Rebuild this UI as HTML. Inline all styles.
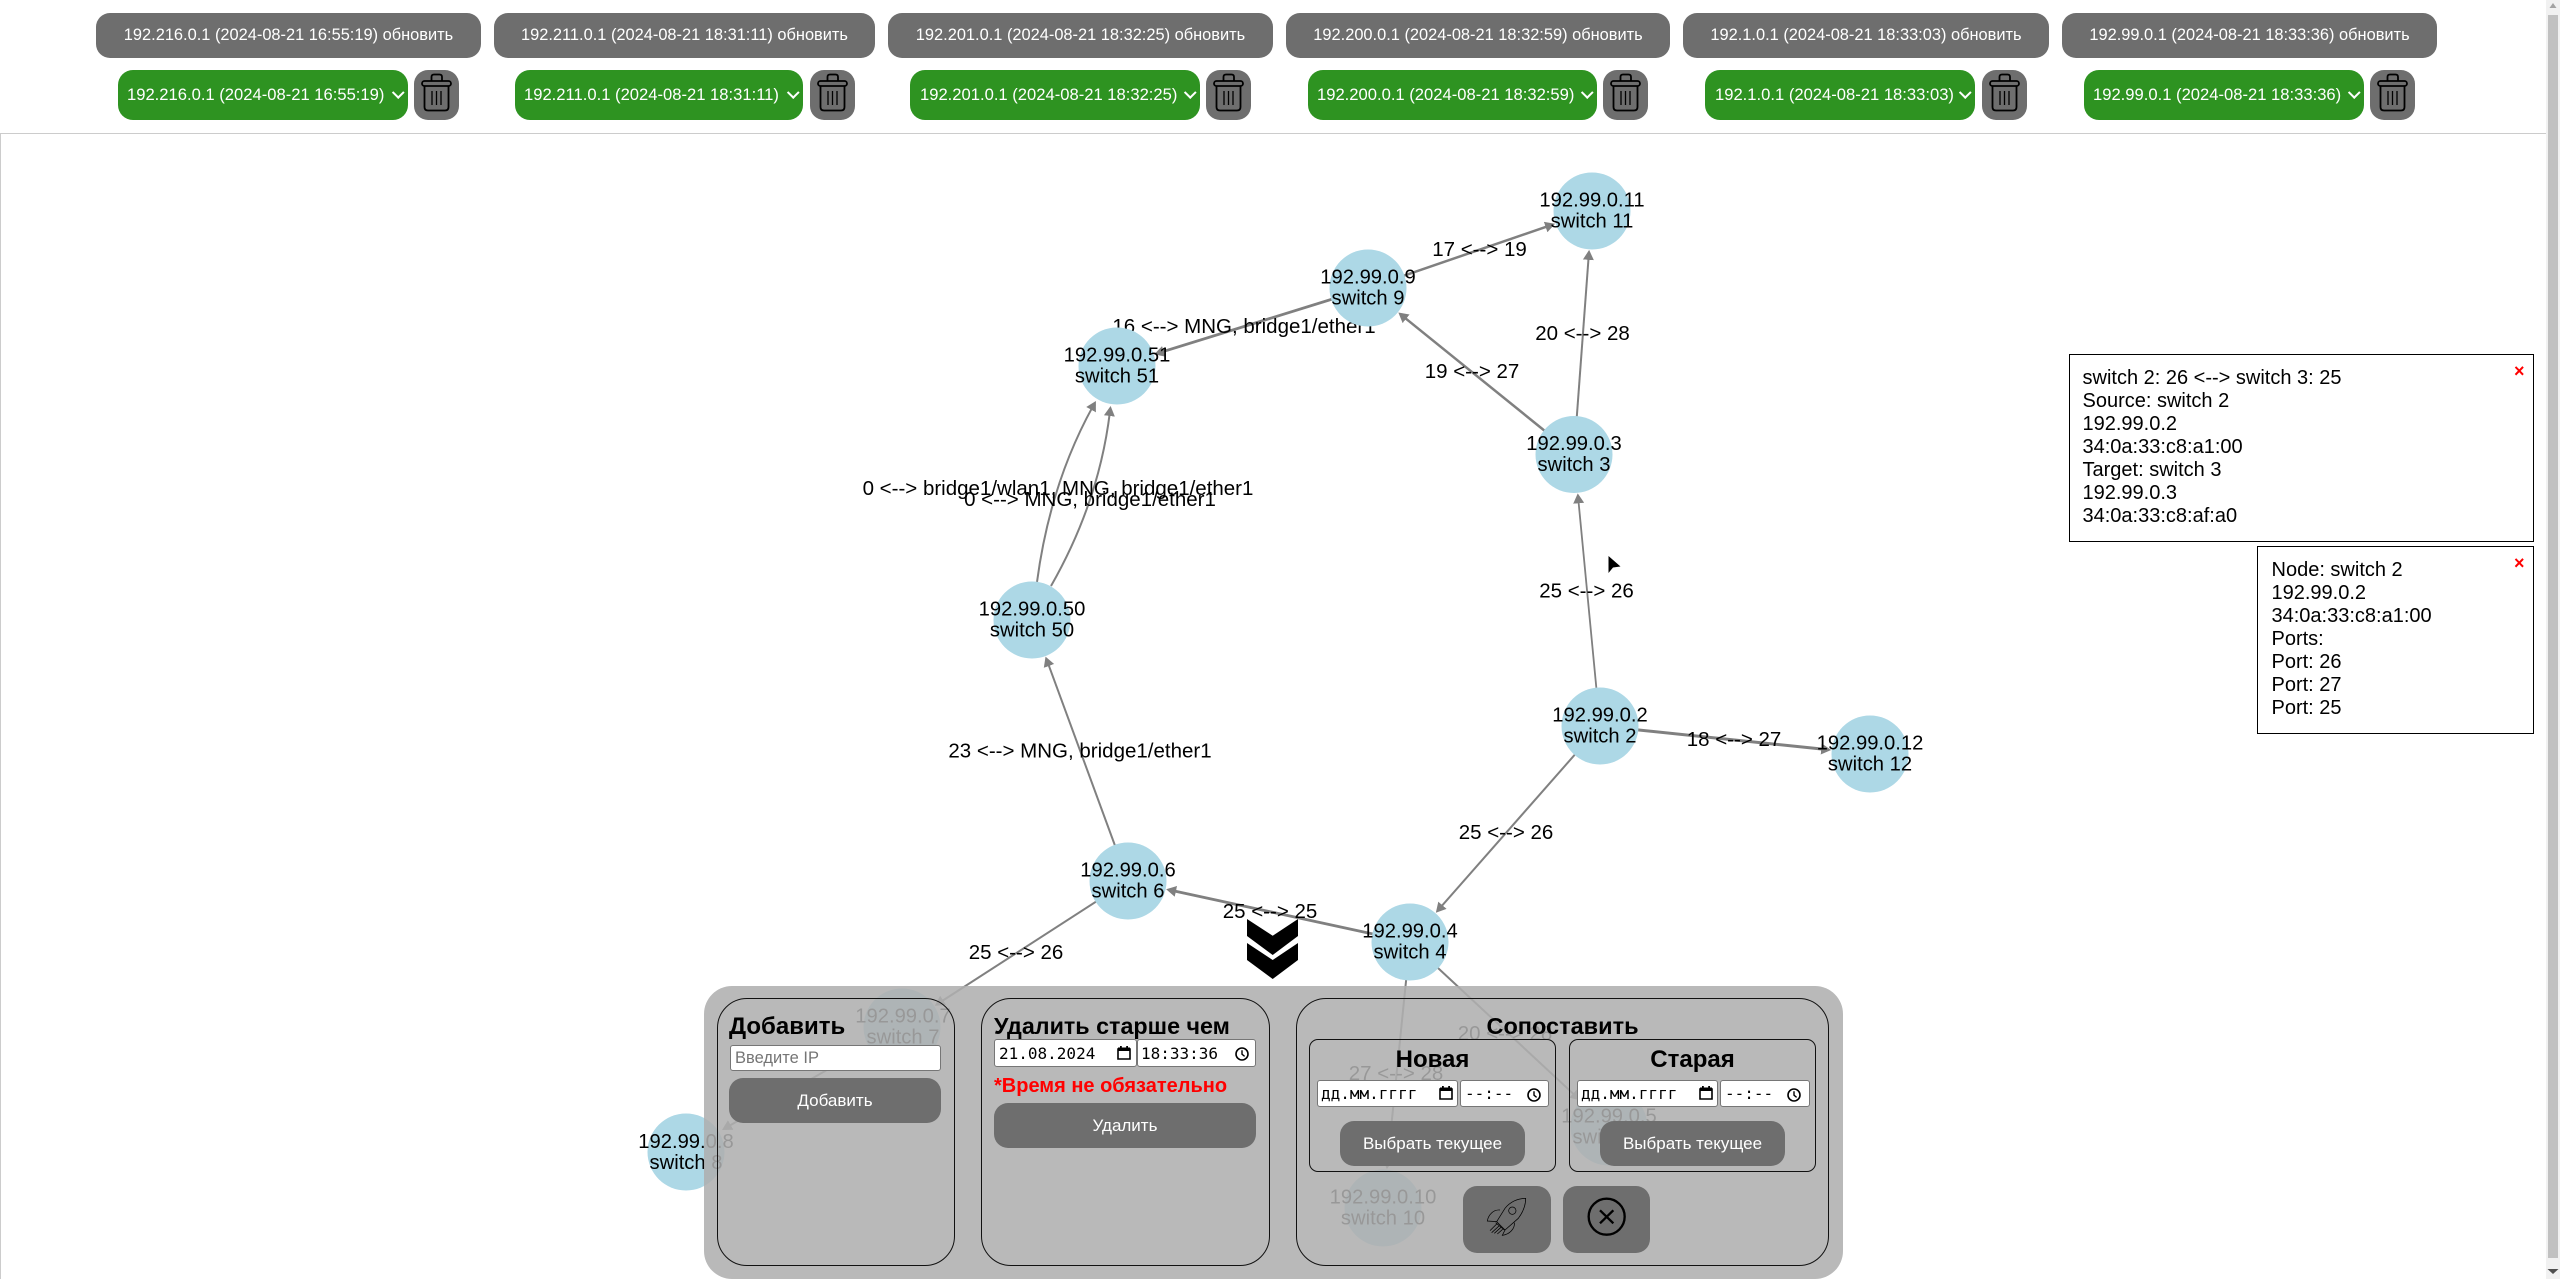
<!DOCTYPE html>
<html lang="ru"><head><meta charset="utf-8"><title>Network map</title>
<style>
html,body{margin:0;padding:0;width:2560px;height:1279px;overflow:hidden;background:#fff;font-family:"Liberation Sans",Arial,sans-serif}
.a{position:absolute;box-sizing:border-box}
.btn{position:absolute;box-sizing:border-box;background:#6e6e6e;color:#fff;font-size:17px;border-radius:14px;text-align:center;display:flex;align-items:center;justify-content:center;white-space:nowrap}
.top{font-size:16.4px}
.sel{position:absolute;top:70px;height:50px;background:#2e9321;color:#fff;font-size:16.6px;border-radius:15px;line-height:50px;white-space:nowrap;box-sizing:border-box}
.sel i{position:absolute;right:5.5px;top:18px;width:6.5px;height:6.5px;border-right:2px solid #fff;border-bottom:2px solid #fff;transform:rotate(45deg)}
.tr{position:absolute;top:70px;width:45px;height:50px;background:#6e6e6e;border-radius:14px}
.tr svg{display:block}
.card{position:absolute;box-sizing:border-box;border:1.5px solid #111;border-radius:30px}
.sub{position:absolute;box-sizing:border-box;border:1.5px solid #111;border-radius:9px}
.inp{position:absolute;box-sizing:border-box;background:#fff;border:1px solid #767676;border-radius:3px;font-family:"DejaVu Sans Mono","Liberation Mono",monospace;font-size:16px;color:#000;white-space:nowrap}
.t{position:absolute;font-weight:bold;color:#000;white-space:nowrap;font-size:24px;line-height:28px}
.pop{position:absolute;box-sizing:border-box;background:#fff;border:1.5px solid #000;font-size:20px;line-height:23px;color:#000;white-space:nowrap}
.pop b{position:absolute;color:#f00;font-size:18px;line-height:18px;font-weight:bold}
svg text{font-family:"Liberation Sans",Arial,sans-serif;font-size:20.2px;fill:#000}
svg .el text{font-size:20.5px}
</style></head><body>

<svg width="0" height="0" style="position:absolute">
<defs>
<symbol id="trash" viewBox="0 0 45 50"><g fill="none" stroke="#000" stroke-width="1.8"><path d="M17.5 11V7q0-2.5 2.5-2.5h5.5q2.5 0 2.5 2.5v4"/><rect x="8" y="11" width="29" height="5" rx="2.5"/><path d="M10.5 16v21q0 3.5 3.5 3.5h17q3.5 0 3.5-3.5V16"/><path stroke-width="1.3" d="M18 21v14M22.5 21v14M27 21v14"/></g></symbol>
<symbol id="cal" viewBox="0 0 14 14"><path d="M1 3h12v10H1z" fill="none" stroke="#000" stroke-width="1.6"/><path d="M1 1.5h12V5H1zM3 0h1.8v2H3zM9.2 0H11v2H9.2z" fill="#000"/></symbol>
<symbol id="clk" viewBox="0 0 14 14"><circle cx="7" cy="7" r="6" fill="none" stroke="#000" stroke-width="1.6"/><path d="M7 3.2V7.2l2.6 2.2" fill="none" stroke="#000" stroke-width="1.4"/></symbol>
<marker id="ah" markerUnits="userSpaceOnUse" markerWidth="14" markerHeight="14" refX="4" refY="6" orient="auto"><path d="M0 0.5L10 6L0 11.5z" fill="#808080"/></marker>
</defs></svg>

<!-- top bar -->
<div class="btn top" style="left:96px;top:13px;width:385px;height:45px">192.216.0.1 (2024-08-21 16:55:19) обновить</div>
<div class="btn top" style="left:494px;top:13px;width:381px;height:45px">192.211.0.1 (2024-08-21 18:31:11) обновить</div>
<div class="btn top" style="left:888px;top:13px;width:385px;height:45px">192.201.0.1 (2024-08-21 18:32:25) обновить</div>
<div class="btn top" style="left:1286px;top:13px;width:384px;height:45px">192.200.0.1 (2024-08-21 18:32:59) обновить</div>
<div class="btn top" style="left:1683px;top:13px;width:366px;height:45px">192.1.0.1 (2024-08-21 18:33:03) обновить</div>
<div class="btn top" style="left:2062px;top:13px;width:375px;height:45px">192.99.0.1 (2024-08-21 18:33:36) обновить</div>

<div class="sel" style="left:118px;width:290px;padding-left:9px">192.216.0.1 (2024-08-21 16:55:19)<i></i></div>
<div class="tr" style="left:414px"><svg width="45" height="50"><use href="#trash"/></svg></div>
<div class="sel" style="left:515px;width:288px;padding-left:9px">192.211.0.1 (2024-08-21 18:31:11)<i></i></div>
<div class="tr" style="left:810px"><svg width="45" height="50"><use href="#trash"/></svg></div>
<div class="sel" style="left:910px;width:290px;padding-left:10px">192.201.0.1 (2024-08-21 18:32:25)<i></i></div>
<div class="tr" style="left:1206px"><svg width="45" height="50"><use href="#trash"/></svg></div>
<div class="sel" style="left:1308px;width:289px;padding-left:9px">192.200.0.1 (2024-08-21 18:32:59)<i></i></div>
<div class="tr" style="left:1603px"><svg width="45" height="50"><use href="#trash"/></svg></div>
<div class="sel" style="left:1705px;width:270px;padding-left:10px">192.1.0.1 (2024-08-21 18:33:03)<i></i></div>
<div class="tr" style="left:1982px"><svg width="45" height="50"><use href="#trash"/></svg></div>
<div class="sel" style="left:2084px;width:280px;padding-left:9px">192.99.0.1 (2024-08-21 18:33:36)<i></i></div>
<div class="tr" style="left:2370px"><svg width="45" height="50"><use href="#trash"/></svg></div>

<!-- graph frame -->
<div class="a" style="left:0;top:133px;width:2546px;height:1146px;border-top:1.5px solid #ccc;border-left:1px solid #ccc"></div>

<!-- graph -->
<svg class="a" style="left:0;top:0" width="2546" height="1279" viewBox="0 0 2546 1279">
<g fill="none" stroke="#808080" stroke-width="2">
<line x1="1368" y1="288" x2="1549.4" y2="225.7" stroke-width="2.5" marker-end="url(#ah)"/>
<line x1="1574" y1="454.5" x2="1588.7" y2="255.9" marker-end="url(#ah)"/>
<line x1="1574" y1="454.5" x2="1403" y2="316.3" stroke-width="2.5" marker-end="url(#ah)"/>
<line x1="1368" y1="288" x2="1159.9" y2="352.6" stroke-width="2.8" marker-end="url(#ah)"/>
<path d="M1037 582Q1050 484 1093 406.2" marker-end="url(#ah)"/>
<path d="M1051 586Q1099 502 1109.9 412" marker-end="url(#ah)"/>
<line x1="1600" y1="726" x2="1578.3" y2="499.3" stroke-width="1.8" marker-end="url(#ah)"/>
<line x1="1600" y1="726" x2="1825.2" y2="749.4" stroke-width="3" marker-end="url(#ah)"/>
<line x1="1600" y1="726" x2="1439.8" y2="908.2" marker-end="url(#ah)"/>
<line x1="1410" y1="942" x2="1172" y2="890.5" stroke-width="2.8" marker-end="url(#ah)"/>
<line x1="1128" y1="881" x2="1047.6" y2="662.2" marker-end="url(#ah)"/>
<line x1="1128" y1="881" x2="939.8" y2="1002.5" marker-end="url(#ah)"/>
<line x1="902" y1="1027" x2="727.2" y2="1127" marker-end="url(#ah)"/>
<line x1="1410" y1="942" x2="1387.5" y2="1163.2" marker-end="url(#ah)"/>
<line x1="1410" y1="942" x2="1576" y2="1096.3" marker-end="url(#ah)"/>
</g>
<g class="el" text-anchor="middle">
<text x="1479.5" y="256">17 &lt;--&gt; 19</text>
<text x="1582.5" y="340">20 &lt;--&gt; 28</text>
<text x="1472" y="378">19 &lt;--&gt; 27</text>
<text x="1244" y="333">16 &lt;--&gt; MNG, bridge1/ether1</text>
<text x="1058" y="495">0 &lt;--&gt; bridge1/wlan1, MNG, bridge1/ether1</text>
<text x="1090" y="506">0 &lt;--&gt; MNG, bridge1/ether1</text>
<text x="1586.5" y="597.7">25 &lt;--&gt; 26</text>
<text x="1734" y="746">18 &lt;--&gt; 27</text>
<text x="1506" y="839">25 &lt;--&gt; 26</text>
<text x="1080" y="757.7">23 &lt;--&gt; MNG, bridge1/ether1</text>
<text x="1270" y="918">25 &lt;--&gt; 25</text>
<text x="1016" y="959">25 &lt;--&gt; 26</text>
<text x="1396" y="1080">27 &lt;--&gt; 28</text>
<text x="1505" y="1040">20 &lt;--&gt; 28</text>
</g>
<g fill="#add8e6">
<circle cx="1592" cy="211" r="38.5"/><circle cx="1368" cy="288" r="38.5"/><circle cx="1117" cy="366" r="38.5"/><circle cx="1574" cy="454.5" r="38.5"/><circle cx="1032" cy="620" r="38.5"/><circle cx="1600" cy="726" r="38.5"/><circle cx="1870" cy="754" r="38.5"/><circle cx="1128" cy="881" r="38.5"/><circle cx="1410" cy="942" r="38.5"/><circle cx="902" cy="1027" r="38.5"/><circle cx="686" cy="1152" r="38.5"/><circle cx="1609" cy="1127" r="38.5"/><circle cx="1383" cy="1208" r="38.5"/>
</g>
<g text-anchor="middle">
<text x="1592" y="206.5">192.99.0.11</text><text x="1592" y="227.5">switch 11</text>
<text x="1368" y="283.5">192.99.0.9</text><text x="1368" y="304.5">switch 9</text>
<text x="1117" y="361.5">192.99.0.51</text><text x="1117" y="382.5">switch 51</text>
<text x="1574" y="450">192.99.0.3</text><text x="1574" y="471">switch 3</text>
<text x="1032" y="615.5">192.99.0.50</text><text x="1032" y="636.5">switch 50</text>
<text x="1600" y="721.5">192.99.0.2</text><text x="1600" y="742.5">switch 2</text>
<text x="1870" y="749.5">192.99.0.12</text><text x="1870" y="770.5">switch 12</text>
<text x="1128" y="876.5">192.99.0.6</text><text x="1128" y="897.5">switch 6</text>
<text x="1410" y="937.5">192.99.0.4</text><text x="1410" y="958.5">switch 4</text>
<text x="903" y="1022.5">192.99.0.7</text><text x="903" y="1043.5">switch 7</text>
<text x="686" y="1148">192.99.0.8</text><text x="686" y="1169">switch 8</text>
<text x="1609" y="1122.5">192.99.0.5</text><text x="1609" y="1143.5">switch 5</text>
<text x="1383" y="1203.5">192.99.0.10</text><text x="1383" y="1224.5">switch 10</text>
</g>
<path d="M1608.5 556L1608.5 573L1613 567.5L1620.5 566.5Z" fill="#000"/>
<path d="M1247 919L1272.7 935.7L1298 919V936L1272.7 955L1247 936Z M1247 943L1272.7 960L1298 943V960L1272.7 979L1247 960Z" fill="#000"/>
</svg>

<!-- popups -->
<div class="pop" style="left:2069px;top:354px;width:465px;height:188px;padding:11.5px 0 0 12.5px">switch 2: 26 &lt;--&gt; switch 3: 25<br>Source: switch 2<br>192.99.0.2<br>34:0a:33:c8:a1:00<br>Target: switch 3<br>192.99.0.3<br>34:0a:33:c8:af:a0<b style="left:444px;top:7px">×</b></div>
<div class="pop" style="left:2257px;top:546px;width:277px;height:188px;padding:11.5px 0 0 13.5px">Node: switch 2<br>192.99.0.2<br>34:0a:33:c8:a1:00<br>Ports:<br>Port: 26<br>Port: 27<br>Port: 25<b style="left:256px;top:7px">×</b></div>

<!-- scrollbar -->
<div class="a" style="left:2546px;top:0;width:14px;height:1279px;background:#f1f1f1"></div>
<div class="a" style="left:2548px;top:15px;width:10px;height:1243px;background:#c1c1c1"></div>
<svg class="a" style="left:2546px;top:0" width="14" height="1279"><path d="M7 3L10.5 8H3.5Z" fill="#a3a3a3"/><path d="M1.5 1269H12.5L7 1274Z" fill="#505050"/></svg>

<!-- bottom panel -->
<div class="a" style="left:704px;top:986px;width:1139px;height:293px;border-radius:28px;background:rgba(175,175,175,.87)"></div>
<div class="card" style="left:717px;top:998px;width:238px;height:268px"></div>
<div class="card" style="left:981px;top:998px;width:289px;height:268px"></div>
<div class="card" style="left:1296px;top:998px;width:533px;height:268px"></div>

<div class="t" style="left:729px;top:1013px">Добавить</div>
<div class="inp" style="left:730px;top:1045px;width:211px;height:26px;font-family:'Liberation Sans',sans-serif;font-size:16.5px;line-height:24px;padding-left:4px;color:#757575">Введите IP</div>
<div class="btn" style="left:729px;top:1078px;width:212px;height:45px">Добавить</div>

<div class="t" style="left:994px;top:1012px;font-size:23.3px">Удалить старше чем</div>
<div class="inp" style="left:994px;top:1039px;width:143px;height:28px;line-height:27px;padding-left:4px">21.08.2024<svg style="position:absolute;left:122px;top:6px" width="14" height="14"><use href="#cal"/></svg></div>
<div class="inp" style="left:1137px;top:1039px;width:119px;height:28px;line-height:27px;padding-left:3px">18:33:36<svg style="position:absolute;left:97px;top:7px" width="14" height="14"><use href="#clk"/></svg></div>
<div class="a" style="left:994px;top:1074px;color:#f00;font-weight:bold;font-size:20px;line-height:24px;white-space:nowrap">*Время не обязательно</div>
<div class="btn" style="left:994px;top:1103px;width:262px;height:45px">Удалить</div>

<div class="t" style="left:1296px;width:533px;text-align:center;top:1012px;font-size:23.5px">Сопоставить</div>
<div class="sub" style="left:1309px;top:1039px;width:247px;height:133px"></div>
<div class="sub" style="left:1569px;top:1039px;width:247px;height:133px"></div>
<div class="t" style="left:1309px;width:247px;text-align:center;top:1046px">Новая</div>
<div class="t" style="left:1569px;width:247px;text-align:center;top:1046px">Старая</div>

<div class="inp" style="left:1317px;top:1080px;width:141px;height:27px;line-height:26px;padding-left:3px">дд.мм.гггг<svg style="position:absolute;left:121px;top:5px" width="14" height="14"><use href="#cal"/></svg></div>
<div class="inp" style="left:1460px;top:1080px;width:89px;height:27px;line-height:26px;padding-left:4px">--:--<svg style="position:absolute;left:66px;top:7px" width="14" height="14"><use href="#clk"/></svg></div>
<div class="inp" style="left:1577px;top:1080px;width:141px;height:27px;line-height:26px;padding-left:3px">дд.мм.гггг<svg style="position:absolute;left:121px;top:5px" width="14" height="14"><use href="#cal"/></svg></div>
<div class="inp" style="left:1720px;top:1080px;width:90px;height:27px;line-height:26px;padding-left:4px">--:--<svg style="position:absolute;left:66px;top:7px" width="14" height="14"><use href="#clk"/></svg></div>

<div class="btn" style="left:1340px;top:1121px;width:185px;height:45px">Выбрать текущее</div>
<div class="btn" style="left:1600px;top:1121px;width:185px;height:45px">Выбрать текущее</div>

<div class="btn" style="left:1462.5px;top:1186px;width:88px;height:67px"></div>
<div class="btn" style="left:1563px;top:1186px;width:87px;height:67px"></div>
<svg class="a" style="left:1455px;top:1180px" width="205" height="80" viewBox="0 0 615 240">
<g fill="none" stroke="#000" stroke-width="2.2">
<path d="M212 55C188 55 165 66 150 85L125 125L150 150L190 115C205 95 212 75 212 55Z"/>
<path d="M135 90C115 88 100 105 97 123L125 125"/>
<path d="M178 128C180 145 165 163 142 166L150 150"/>
<circle cx="172" cy="92" r="11"/>
<path d="M122 128L148 150M125 132L105 152M132 138L110 158M138 142L118 160M143 148L127 162"/>
</g>
<circle cx="455" cy="110" r="54" fill="none" stroke="#000" stroke-width="7"/>
<path d="M435 91L475 130M475 91L435 130" stroke="#000" stroke-width="7" fill="none"/>
</svg>

</body></html>
